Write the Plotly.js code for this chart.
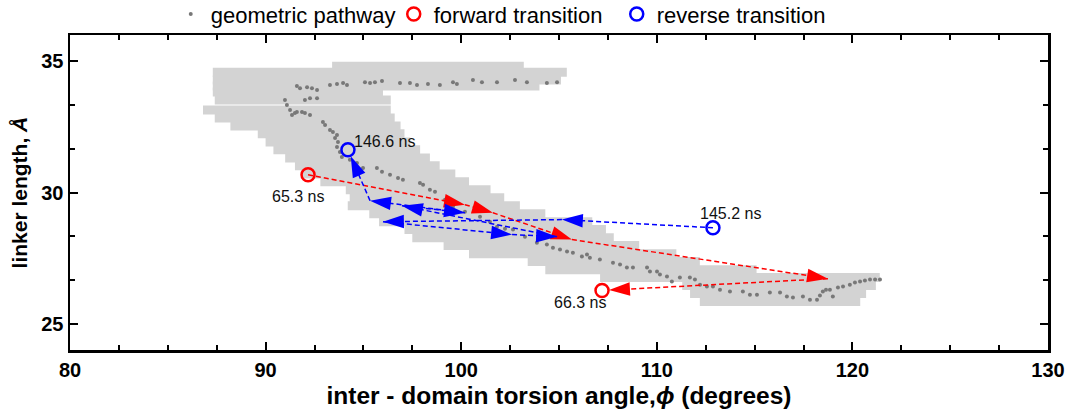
<!DOCTYPE html>
<html><head><meta charset="utf-8">
<script src="https://cdn.plot.ly/plotly-3.0.1.min.js"></script>
<style>body{margin:0;background:#fff}#chart{width:1071px;height:414px}</style>
</head><body><div id="chart"></div>
<script>
// gray pathway envelope: horizontal strips (y, x-min, x-max)
const bandY    = [34.82,34.59,34.29,34.06,33.83,33.53,33.15,32.84,32.54,32.24,31.93,31.63,31.32,31.02,30.71,30.41,30.11,29.80,29.50,29.19,28.89,28.59,28.28,27.98,27.67,27.37,27.06,26.76,26.46,26.15,25.85];
const bandXmin = [93.4,87.3,87.3,87.3,87.3,87.4,86.8,87.4,88.2,89.6,90.0,90.4,91.0,91.5,91.8,92.8,94.1,94.3,94.2,95.3,95.8,97.1,97.5,99.1,100.4,103.4,104.3,107.1,111.3,111.7,112.2];
const bandXmax = [103.2,105.4,105.1,104.0,96.0,96.4,96.4,96.6,96.9,97.1,97.4,97.9,98.4,98.9,99.7,100.4,101.5,102.2,103.0,104.3,106.7,107.4,107.8,109.1,111.0,112.2,115.1,121.4,121.2,120.7,120.4];

// geometric pathway points
const pathX = [91.60,91.76,92.12,92.37,92.63,93.29,93.65,93.96,94.16,95.08,95.34,95.59,95.95,96.87,97.38,97.74,98.30,98.91,99.58,99.78,100.60,101.06,101.83,102.75,103.36,104.38,104.90,
  90.99,91.09,91.25,91.35,91.50,91.60,91.86,92.01,92.27,92.01,92.27,92.63,
  92.93,93.04,93.29,93.44,93.65,93.55,93.70,93.65,93.80,93.90,94.31,94.67,94.98,95.69,95.95,96.36,96.77,97.02,97.89,98.05,98.40,98.66,99.17,99.58,100.19,100.96,101.47,101.83,102.24,102.65,103.26,103.87,104.38,104.69,105.05,105.41,105.71,106.17,106.43,106.58,107.09,107.76,108.12,108.47,108.78,109.50,109.65,110.01,110.16,110.52,110.77,111.18,111.69,111.95,112.21,112.56,112.87,113.23,113.74,114.40,114.76,115.12,115.78,116.30,116.65,116.96,117.47,117.83,118.19,118.34,118.49,118.65,118.85,119.00,119.26,119.52,119.87,120.13,120.39,120.64,120.90,121.16,121.41];
const pathY = [34.06,33.98,34.02,33.98,33.91,34.10,34.14,34.18,34.10,34.21,34.18,34.21,34.25,34.18,34.18,34.10,34.14,34.10,34.21,34.14,34.29,34.21,34.21,34.29,34.21,34.18,34.21,
  33.53,33.34,33.15,32.96,33.03,33.07,33.07,33.03,32.96,33.53,33.60,33.60,
  32.69,32.58,32.39,32.31,32.20,32.08,31.93,31.74,31.55,31.36,31.25,31.13,30.94,30.94,30.79,30.68,30.56,30.49,30.37,30.30,30.11,30.03,29.73,29.46,29.27,29.08,28.89,28.70,28.62,28.59,28.32,28.09,28.02,27.90,27.83,27.75,27.71,27.56,27.64,27.52,27.45,27.33,27.26,27.14,27.14,27.14,26.99,26.99,26.88,26.80,26.61,26.76,26.76,26.69,26.49,26.42,26.42,26.30,26.23,26.23,26.11,26.11,26.19,26.19,26.04,26.00,26.04,25.92,25.92,26.08,26.23,26.30,26.30,26.04,26.38,26.42,26.49,26.57,26.61,26.65,26.69,26.69,26.69];

// transitions (endpoints)
const forwardLabels = ['65.3 ns','66.3 ns'];
const forwardX = [92.17,107.20];
const forwardY = [30.68,26.27];
const reverseLabels = ['146.6 ns','145.2 ns'];
const reverseX = [94.21,112.87];
const reverseY = [31.63,28.66];

// transition trajectories
const forwardPathX = [92.17,100.19,101.62,105.66,118.75,107.20];
const forwardPathY = [30.68,29.54,29.23,28.21,26.72,26.27];
const reversePathX = [112.87,105.15,96.00,102.60,104.90,96.97,100.19,95.34,94.21];
const reversePathY = [28.66,28.97,28.89,28.40,28.32,29.50,29.23,29.69,31.63];

const FONT = 'Liberation Sans, Arial, sans-serif';

const bx = [], by = [];
bandY.forEach((y,i)=>{ bx.push(bandXmin[i], bandXmax[i], null); by.push(y, y, null); });

function arrowTrace(xs, ys, color){
  const n = xs.length;
  return {
    x: xs, y: ys, mode: 'lines+markers', type: 'scatter', showlegend: false, hoverinfo: 'skip',
    line: {color: color, width: 1.5, dash: '5px,3px'},
    marker: {symbol: 'arrow', color: color, angleref: 'previous', opacity: 1,
      size: xs.map((_,i)=> i===0 ? 0 : 22),
      standoff: xs.map((_,i)=> i===n-1 ? 7 : 0),
      line: {width: 0}}
  };
}

const traces = [
  {x: bx, y: by, mode: 'lines', type: 'scatter', showlegend: false, hoverinfo: 'skip',
   line: {color: '#d3d3d3', width: 9}},
  {x: pathX, y: pathY, mode: 'markers', type: 'scatter', name: 'geometric pathway',
   marker: {color: '#787878', size: 4}},
  arrowTrace(forwardPathX, forwardPathY, '#ff0000'),
  arrowTrace(reversePathX, reversePathY, '#0000ff'),
  {x: forwardX, y: forwardY, mode: 'markers', type: 'scatter', name: 'forward transition',
   marker: {symbol: 'circle-open', size: 13, color: '#ff0000', line: {width: 2.5, color: '#ff0000'}}},
  {x: reverseX, y: reverseY, mode: 'markers', type: 'scatter', name: 'reverse transition',
   marker: {symbol: 'circle-open', size: 13, color: '#0000ff', line: {width: 2.5, color: '#0000ff'}}}
];

const fwdOffsets = [[-10,-22],[-22,-12]];
const revOffsets = [[37,8],[18,14]];
const annotations = [];
forwardLabels.forEach((t,i)=> annotations.push({x: forwardX[i], y: forwardY[i], text: t, showarrow: false,
  xshift: fwdOffsets[i][0], yshift: fwdOffsets[i][1], font: {family: FONT, size: 16, color: '#111'}}));
reverseLabels.forEach((t,i)=> annotations.push({x: reverseX[i], y: reverseY[i], text: t, showarrow: false,
  xshift: revOffsets[i][0], yshift: revOffsets[i][1], font: {family: FONT, size: 16, color: '#111'}}));

const axisCommon = {
  showline: true, linewidth: 2.5, linecolor: '#000', mirror: 'ticks',
  ticks: 'inside', ticklen: 8, tickwidth: 2, tickcolor: '#000',
  showgrid: false, zeroline: false,
  tickfont: {family: FONT, size: 20, color: '#000', weight: 700}
};

const layout = {
  width: 1071, height: 414,
  margin: {l: 70, r: 23, t: 35, b: 64},
  paper_bgcolor: '#fff', plot_bgcolor: '#fff',
  showlegend: true,
  legend: {orientation: 'h', xref: 'paper', x: 0.103, xanchor: 'left',
    yref: 'container', y: 0.915, yanchor: 'bottom',
    entrywidthmode: 'pixels', entrywidth: 178,
    font: {family: FONT, size: 22, color: '#000'}, bgcolor: 'rgba(0,0,0,0)', itemwidth: 30},
  xaxis: Object.assign({}, axisCommon, {
    range: [80,130], tick0: 80, dtick: 10,
    minor: {dtick: 2.5, ticks: 'inside', ticklen: 5, tickwidth: 2, tickcolor: '#000', showgrid: false},
    title: {text: 'inter - domain torsion angle,<i>ϕ</i> (degrees)', standoff: 8,
      font: {family: FONT, size: 24.5, color: '#000', weight: 700}}
  }),
  yaxis: Object.assign({}, axisCommon, {
    range: [24,36], tick0: 25, dtick: 5,
    minor: {tick0: 25, dtick: 5/3, ticks: 'inside', ticklen: 5, tickwidth: 2, tickcolor: '#000', showgrid: false},
    title: {text: 'linker length, <i>Å</i>', standoff: 8,
      font: {family: FONT, size: 21, color: '#000', weight: 700}}
  }),
  annotations: annotations
};

Plotly.newPlot('chart', traces, layout, {staticPlot: true, displayModeBar: false});
</script></body></html>
